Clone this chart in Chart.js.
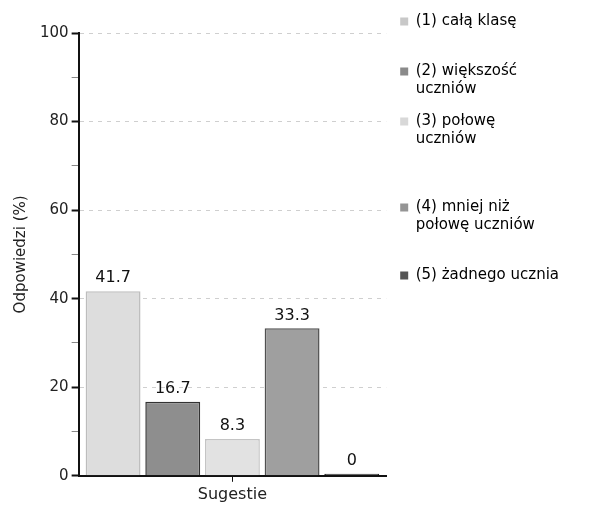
<!DOCTYPE html>
<html>
<head>
<meta charset="utf-8">
<script src="https://cdn.jsdelivr.net/npm/chart.js@4"></script>
<style>
  html, body { margin: 0; padding: 0; background: #fff; }
  #wrap { width: 599px; height: 507px; }
</style>
</head>
<body>
<div id="wrap"><canvas id="chart"></canvas></div>
<script>
// dane
const kategorie = ['Sugestie'];
const odpowiedzi = [
  ['(1) całą klasę'],
  ['(2) większość', 'uczniów'],
  ['(3) połowę', 'uczniów'],
  ['(4) mniej niż', 'połowę uczniów'],
  ['(5) żadnego ucznia']
];
const procenty = [41.7, 16.7, 8.3, 33.3, 0];
const yTicks = [0, 20, 40, 60, 80, 100];

const wypelnienie = ['#dddddd', '#8e8e8e', '#e2e2e2', '#9f9f9f', '#3a3a3a'];
const obramowanie = ['#bdbdbd', '#333333', '#c4c4c4', '#505050', '#222222'];
const legendaKolory = ['#c8c8c8', '#8a8a8a', '#d8d8d8', '#959595', '#555555'];
// puste linie pod pozycja legendy (odstepy jak w oryginale)
const legendaOdstep = [1, 0, 2, 1, 0];

// etykiety nad slupkami
const wartosciPlugin = {
  id: 'wartosci',
  afterDatasetsDraw(chart) {
    const ctx = chart.ctx;
    ctx.save();
    ctx.font = '16px "DejaVu Sans"';
    ctx.fillStyle = '#111';
    ctx.textAlign = 'center';
    ctx.textBaseline = 'bottom';
    chart.data.datasets.forEach((ds, i) => {
      const bar = chart.getDatasetMeta(i).data[0];
      ctx.fillText(String(ds.data[0]), bar.x, bar.y - 5);
    });
    ctx.restore();
  }
};

new Chart(document.getElementById('chart'), {
  type: 'bar',
  data: {
    labels: kategorie,
    datasets: odpowiedzi.map((nazwa, i) => ({
      label: nazwa.join(' '),
      data: [procenty[i]],
      backgroundColor: wypelnienie[i],
      borderColor: obramowanie[i],
      borderWidth: 1.5,
      minBarLength: i === 4 ? 2 : 0
    }))
  },
  options: {
    responsive: true,
    maintainAspectRatio: false,
    animation: false,
    devicePixelRatio: 1,
    layout: { padding: { top: 0, right: 30, left: 8, bottom: 0 } },
    datasets: { bar: { categoryPercentage: 0.97, barPercentage: 0.92 } },
    plugins: {
      tooltip: { enabled: false },
      // pusty tytul tylko po to, zeby obnizyc obszar wykresu
      title: {
        display: true,
        text: '',
        fullSize: false,
        font: { size: 10, lineHeight: 1 },
        padding: { top: 10, bottom: 13 }
      },
      legend: {
        position: 'right',
        align: 'start',
        fullSize: true,
        maxWidth: 240,
        labels: {
          font: { family: 'DejaVu Sans', size: 15, lineHeight: 1.2 },
          color: '#222',
          boxWidth: 8,
          boxHeight: 8,
          padding: 14,
          generateLabels(chart) {
            return odpowiedzi.map((nazwa, i) => ({
              text: nazwa.concat(new Array(legendaOdstep[i]).fill('')),
              fillStyle: legendaKolory[i],
              strokeStyle: legendaKolory[i],
              lineWidth: 0,
              datasetIndex: i
            }));
          }
        }
      }
    },
    scales: {
      x: {
        border: { color: '#111', width: 2 },
        ticks: { color: '#222', font: { family: 'DejaVu Sans', size: 16 }, padding: 3 },
        grid: { display: true, drawOnChartArea: false, tickLength: 6, color: '#111', offset: false }
      },
      y: {
        min: 0,
        max: 100,
        afterBuildTicks(axis) {
          axis.ticks = [0, 10, 20, 30, 40, 50, 60, 70, 80, 90, 100].map(v => ({ value: v }));
        },
        border: { color: '#111', width: 2, dash: [4, 5] },
        grid: {
          drawOnChartArea: true,
          tickLength: 7,
          color: ctx => (ctx.tick && ctx.tick.value % 20 === 0 && ctx.tick.value > 0) ? '#cfcfcf' : 'rgba(0,0,0,0)',
          tickColor: ctx => (ctx.tick && ctx.tick.value % 20 === 0) ? '#111' : '#888',
          tickWidth: ctx => (ctx.tick && ctx.tick.value % 20 === 0) ? 2 : 1
        },
        ticks: {
          color: '#222',
          font: { family: 'DejaVu Sans', size: 15 },
          padding: 3,
          callback: v => yTicks.includes(v) ? v : ''
        },
        title: {
          display: true,
          text: 'Odpowiedzi (%)',
          color: '#222',
          font: { family: 'DejaVu Sans', size: 15 },
          padding: { bottom: 7 }
        }
      }
    }
  },
  plugins: [wartosciPlugin]
});
</script>
</body>
</html>
